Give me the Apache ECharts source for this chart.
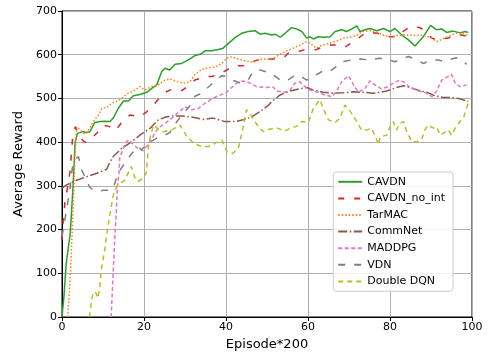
<!DOCTYPE html>
<html>
<head>
<meta charset="utf-8">
<script src="https://cdn.jsdelivr.net/npm/echarts@6/dist/echarts.min.js"></script>
<style>
  html, body { margin: 0; padding: 0; background: #fff; }
  #chart { width: 488px; height: 356px; }
</style>
</head>
<body>
<div id="chart"></div>
<script>
// [episode, reward] pairs
const cavdn = [[0,0],[0.5,50],[1,120],[2,190],[2.7,300],[3.2,400],[3.8,420],[5.2,424],[6,422],[6.8,424],[8,445],[9.3,447],[10.5,448],[11.7,447],[12.5,455],[13.7,477],[15,494],[16.2,494],[17.4,506],[19,509],[20.7,514],[21.9,523],[23.1,531],[24.3,561],[25.1,569],[26.3,565],[27.6,578],[29.2,580],[30.8,588],[32.4,598],[33.7,601],[34.9,609],[36.5,609],[38.1,612],[39.3,615],[40.6,626],[42.2,639],[43.8,649],[45.4,653],[47.1,655],[48.3,647],[49.5,649],[51.1,645],[52,647],[53.2,640],[54.4,649],[56,662],[57.2,659],[58.5,653],[59.7,638],[60.5,641],[61.3,636],[62.5,641],[63.7,640],[65.4,641],[66.6,653],[68.2,657],[69.4,653],[70.7,659],[71.9,666],[72.7,653],[73.9,657],[75.1,660],[76.8,655],[78.4,660],[80,653],[81.2,660],[82.9,645],[84.5,634],[86.1,620],[88.1,641],[89.9,667],[91.4,657],[92.6,659],[93.8,651],[95.4,654],[97.1,650],[98.3,653],[99.1,651]];
const cavdnNoInt = [[0,176],[0.3,222],[0.7,260],[1.5,305],[2,336],[2.6,412],[3.2,435],[4.5,410],[5.5,400],[6.4,401],[7.2,409],[8.2,418],[9.3,428],[10,439],[11,437],[11.7,435],[12.9,426],[14,438],[15,451],[16.6,462],[19,458],[20.7,470],[22.3,485],[23.5,498],[24.7,512],[26.3,519],[27.6,522],[29.2,518],[31.2,531],[32.4,542],[34.9,550],[36.5,550],[38.1,554],[40.2,565],[42.2,575],[44.2,575],[46.3,584],[48.7,590],[50.7,590],[52.4,590],[54.4,596],[55.2,604],[57.6,607],[58.9,611],[60.9,611],[62.1,612],[63.7,618],[65.4,622],[67.4,622],[69,617],[70.7,628],[72.3,638],[73.9,649],[75.1,651],[76.8,649],[78.4,645],[80,641],[81.6,641],[83.3,654],[84.9,664],[87.3,662],[88.5,654],[90.2,638],[91.4,634],[92.6,636],[94.2,638],[95.9,646],[97.5,645],[99.1,641]];
const tarmac = [[1.4,0],[2.1,107],[2.6,221],[2.9,290],[3.2,380],[3.6,435],[4.4,428],[5.6,418],[6.8,432],[7.6,447],[8.9,462],[9.7,477],[10.9,479],[12.1,489],[13.3,493],[14.6,500],[15.8,510],[17.4,517],[19,527],[20.2,519],[21.9,527],[23.5,531],[24.7,540],[26.3,545],[28.4,537],[30,535],[31.2,538],[32.4,554],[34.1,567],[35.7,570],[37.7,573],[39,580],[40.2,592],[41.4,595],[43,590],[44.6,586],[46.7,583],[48.3,590],[49.9,590],[51.1,589],[53.2,601],[54.8,609],[56.4,615],[58,622],[59.7,630],[60.5,626],[62.1,615],[63.3,621],[65,626],[67,631],[68.6,638],[70.2,640],[71.9,644],[73.1,653],[74.3,654],[75.5,655],[76.8,651],[78.4,645],[80,641],[81.6,644],[83.3,646],[84.9,645],[86.5,644],[88.1,645],[90.2,638],[91.4,630],[92.6,635],[94.2,641],[95.9,649],[97.5,649],[98.9,645]];
const commnet = [[0,295],[1.1,302],[3.6,313],[6,321],[8.5,329],[10.9,338],[11.7,355],[12.5,367],[14.6,386],[17,401],[19,416],[21.5,432],[23.5,451],[25.5,458],[27.1,460],[29.1,460],[31.9,457],[34.4,452],[36.8,455],[39.8,447],[42.2,447],[44.2,451],[46.3,458],[48.3,470],[50.3,484],[51.1,492],[53.2,508],[55.6,517],[58,522],[59.7,525],[61.3,519],[63.7,514],[66.2,512],[68.6,513],[71.1,515],[73.5,514],[75.9,512],[77.6,514],[79.2,517],[81.6,525],[83.3,529],[84.9,525],[86.9,519],[88.9,514],[91,506],[93,502],[95,502],[97.1,499],[99.1,493]];
const maddpg = [[12,0],[12.4,85],[12.9,184],[13.3,252],[13.5,298],[13.9,329],[14.1,365],[15.4,397],[16.2,405],[17,398],[18.2,388],[19.8,380],[21,395],[22.3,415],[23.5,433],[25.1,442],[26.8,455],[28.4,468],[30,481],[31.6,474],[33.2,477],[34.9,489],[36.5,499],[38.1,506],[39.8,512],[41.4,525],[42.6,535],[44.2,540],[45.4,537],[47.5,527],[49.5,525],[51.5,526],[52.4,517],[54.4,514],[55.6,519],[56.8,535],[58,538],[59.2,527],[60.5,519],[62.5,514],[64.1,508],[65.8,504],[67,517],[68.2,538],[69.9,552],[71.1,531],[72.3,514],[73.9,523],[75.1,540],[76.3,531],[77.9,522],[79.6,527],[80.8,535],[82.4,542],[83.3,538],[84.9,525],[86.9,517],[88.5,514],[90.2,504],[91.4,517],[92.6,542],[93.8,548],[95,555],[95.9,535],[97.1,527],[98.7,531]];
const vdn = [[0,184],[1.1,245],[1.9,290],[2.5,340],[3.2,360],[4,367],[4.8,336],[6,313],[6.7,298],[7.6,290],[9,288],[10.1,290],[11.2,290],[12.4,293],[13.7,329],[15.3,352],[17,374],[18.6,390],[19.4,382],[20.7,397],[21.5,400],[23.1,409],[24.7,414],[26.3,422],[27.1,435],[29.2,462],[31.2,483],[32.4,505],[33.7,510],[34.9,519],[37.3,540],[39,552],[40.2,550],[41.8,541],[43.4,536],[45.4,542],[46.7,563],[48.3,565],[51.1,557],[53.2,542],[54.8,540],[56.4,550],[57.6,554],[59.7,542],[60.9,548],[63.3,561],[65,560],[67,573],[68.2,584],[70.7,588],[72.7,590],[75.1,588],[77.2,592],[79.2,590],[81.2,584],[82.9,590],[84.5,596],[86.5,588],[88.1,580],[90.2,588],[91.8,588],[93.4,584],[95,590],[96.2,593],[97.5,588],[98.7,578]];
const doubleDqn = [[6.7,0],[7.2,39],[7.6,54],[8.1,58],[8.8,43],[9.2,69],[9.6,108],[10.4,153],[11.2,207],[12,252],[12.7,287],[13.7,302],[15.3,313],[16.5,336],[16.9,344],[17.7,321],[18.5,310],[19.8,317],[20.6,332],[20.9,370],[21.2,400],[22.3,439],[23.5,430],[24.7,424],[26.8,428],[28.8,439],[30.4,414],[32.2,397],[34.1,390],[35.7,390],[37.3,397],[39,405],[40.2,378],[41.6,374],[43,386],[44.2,435],[45,474],[46.3,458],[47.9,435],[49.1,424],[50.7,430],[52.6,432],[54.2,425],[55.8,432],[57.2,436],[58.5,447],[60.1,445],[61.3,477],[62.9,497],[63.7,477],[65,451],[66.6,445],[67.8,455],[69,485],[70.2,472],[71.9,447],[73.1,427],[74.3,428],[75.5,432],[76.8,405],[77.2,394],[77.6,412],[79.2,416],[80,435],[80.8,447],[81.6,428],[82.4,443],[83.3,447],[84.1,424],[85.3,401],[86.5,401],[87.7,405],[88.5,428],[89.3,439],[90.6,432],[91.4,435],[92.2,416],[93,420],[94.2,428],[95,416],[95.9,432],[96.7,443],[98,458],[98.8,481],[99.2,493]];

const seriesNames = ['CAVDN', 'CAVDN_no_int', 'TarMAC', 'CommNet', 'MADDPG', 'VDN', 'Double DQN'];
const seriesData = [cavdn, cavdnNoInt, tarmac, commnet, maddpg, vdn, doubleDqn];
const colors = ['#2ca02c', '#d62728', '#ff7f0e', '#8c564b', '#e377c2', '#7f7f7f', '#bcbd22'];
const dashes = ['solid', [6, 10], [1.5, 2], [9, 2.5, 1.5, 2.5], [4, 2.5], [7, 9], [5, 4]];

const chart = echarts.init(document.getElementById('chart'));
const font = 'DejaVu Sans';

chart.setOption({
  animation: false,
  backgroundColor: '#fff',
  grid: { left: 62, right: 16, top: 11, bottom: 39, show: true, borderColor: '#000', borderWidth: 1 },
  xAxis: {
    type: 'value', min: 0, max: 100, interval: 20,
    name: 'Episode*200', nameLocation: 'middle', nameGap: 21,
    nameTextStyle: { fontFamily: font, fontSize: 13, color: '#000' },
    axisLine: { lineStyle: { color: '#000' } },
    axisTick: { length: 4, lineStyle: { color: '#000' } },
    axisLabel: { fontFamily: font, fontSize: 11, color: '#000', margin: 5 },
    splitLine: { lineStyle: { color: '#b0b0b0', width: 1 } }
  },
  yAxis: {
    type: 'value', min: 0, max: 700, interval: 100,
    name: 'Average Reward', nameLocation: 'middle', nameGap: 35,
    nameTextStyle: { fontFamily: font, fontSize: 13, color: '#000' },
    axisLine: { show: true, lineStyle: { color: '#000' } },
    axisTick: { show: true, length: 4, lineStyle: { color: '#000' } },
    axisLabel: { fontFamily: font, fontSize: 11, color: '#000', margin: 5 },
    splitLine: { lineStyle: { color: '#b0b0b0', width: 1 } }
  },
  legend: {
    orient: 'vertical', right: 35, top: 172,
    itemWidth: 24, itemHeight: 12, itemGap: 5,
    padding: [4, 8, 4, 4],
    backgroundColor: 'rgba(255,255,255,0.85)', borderColor: '#ccc', borderWidth: 1, borderRadius: 3,
    itemStyle: { opacity: 0 },
    textStyle: { fontFamily: font, fontSize: 11, color: '#000' },
    data: seriesNames
  },
  series: seriesNames.map((name, i) => ({
    name: name,
    type: 'line',
    data: seriesData[i],
    showSymbol: false,
    color: colors[i],
    lineStyle: { color: colors[i], width: 1.5, type: dashes[i] }
  }))
});
</script>
</body>
</html>
